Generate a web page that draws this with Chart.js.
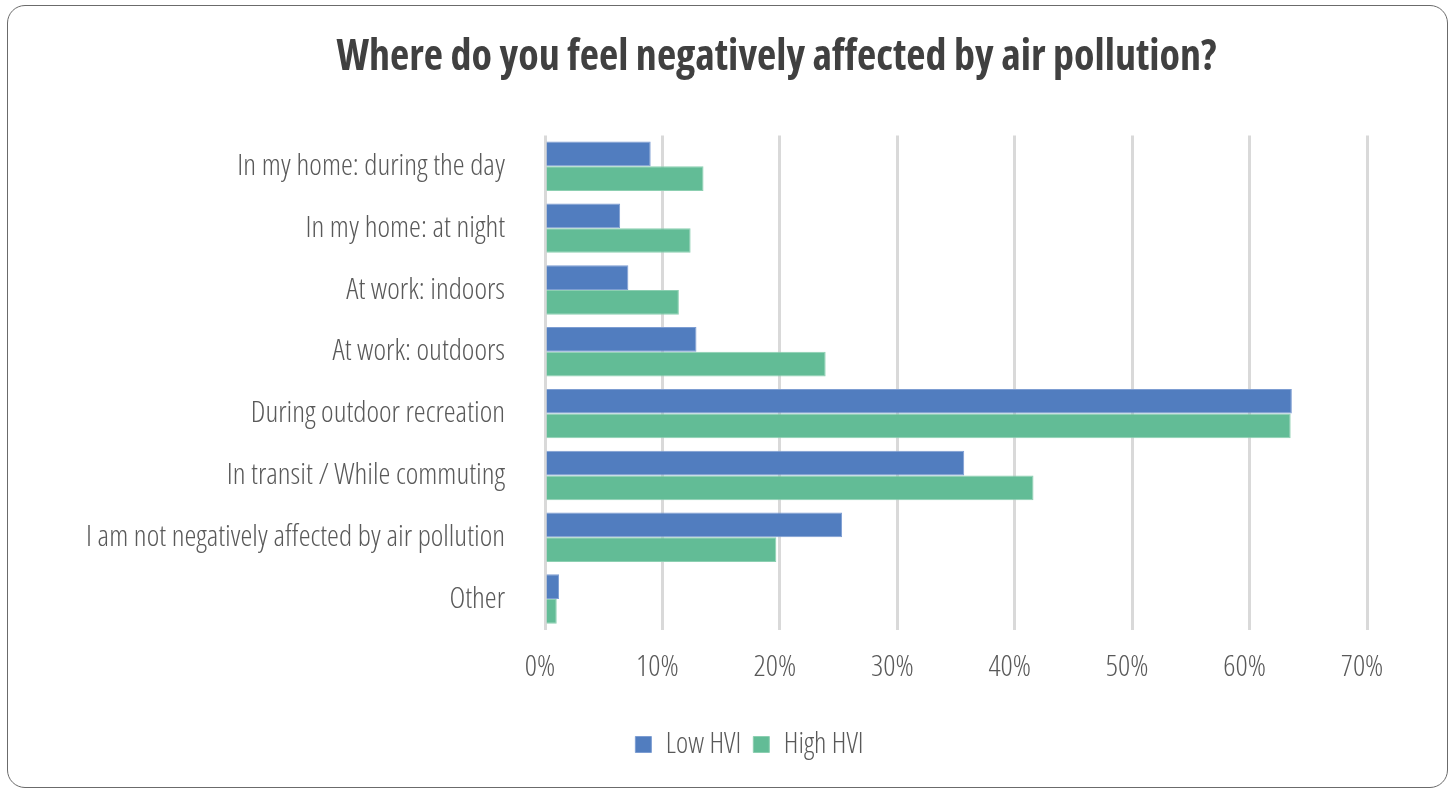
<!DOCTYPE html>
<html>
<head>
<meta charset="utf-8">
<title>Air pollution survey</title>
<script src="https://cdn.jsdelivr.net/npm/chart.js@4.4.1/dist/chart.umd.min.js"></script>
<style>
  html, body { margin: 0; padding: 0; background: #fff; overflow: hidden; }
  #frame {
    position: absolute; left: 7px; top: 5px; width: 1441px; height: 783px;
    border: 1.5px solid #6b6b6b; border-radius: 18px; box-sizing: border-box;
  }
  #wrap { position: absolute; left: 0; top: 0; width: 1453px; height: 788px; }
</style>
</head>
<body>
<div id="frame"></div>
<div id="wrap"><canvas id="chart"></canvas></div>
<script>
const categories = [
    'In my home: during the day',
    'In my home: at night',
    'At work: indoors',
    'At work: outdoors',
    'During outdoor recreation',
    'In transit / While commuting',
    'I am not negatively affected by air pollution',
    'Other',
];
const seriesNames = ['Low HVI', 'High HVI'];
const lowHvi = [9.0, 6.4, 7.1, 12.9, 63.6, 35.7, 25.3, 1.2];
const highHvi = [13.5, 12.4, 11.4, 23.9, 63.5, 41.6, 19.7, 1.0];
const xMax = 70;
const xStep = 10;

const TEXT = '#595959';

// Open Sans is variable, the "condensed" keyword pulls the narrow width
Chart.defaults.font.family = "'Open Sans', sans-serif";
Chart.defaults.color = TEXT;

// title and legend are not centred on the same spot, move their boxes
const shiftBlocks = {
    id: 'shiftBlocks',
    afterLayout(chart) {
        chart.titleBlock.left += 63;
        chart.titleBlock.right += 63;
        chart.legend.left += 36;
        chart.legend.right += 36;
    }
};

new Chart(document.getElementById('chart'), {
    type: 'bar',
    data: {
        labels: categories,
        datasets: [{
            label: seriesNames[0],
            data: lowHvi,
            backgroundColor: '#517dbf',
            borderColor: '#7d9dd2',
            borderWidth: 1,
            barPercentage: 1,
            categoryPercentage: 0.8,
        }, {
            label: seriesNames[1],
            data: highHvi,
            backgroundColor: '#62bc96',
            borderColor: '#8ccfb1',
            borderWidth: 1,
            barPercentage: 1,
            categoryPercentage: 0.8,
        }]
    },
    options: {
        indexAxis: 'y',
        responsive: true,
        maintainAspectRatio: false,
        animation: false,
        layout: {
            padding: { top: 0, left: 60, right: 86, bottom: 19 }
        },
        scales: {
            x: {
                min: 0,
                max: xMax,
                ticks: {
                    stepSize: xStep,
                    callback: v => v + '%',
                    font: { size: 30, weight: '300 condensed' },
                    color: TEXT,
                    padding: 19,
                    labelOffset: -5,
                },
                grid: {
                    color: '#d9d9d9',
                    lineWidth: 3,
                    drawTicks: false,
                },
                border: { display: false },
                afterFit(scale) {
                    scale.height = 88;
                }
            },
            y: {
                ticks: {
                    font: { size: 30, weight: '300 condensed' },
                    color: TEXT,
                    padding: 40,
                },
                grid: { display: false, drawTicks: false },
                border: { display: false },
                afterFit(scale) {
                    scale.width = 485;
                }
            }
        },
        plugins: {
            title: {
                display: true,
                text: 'Where do you feel negatively affected by air pollution?',
                color: '#404040',
                font: { size: 42, weight: 'bold condensed' },
                padding: { top: 33, bottom: 52 },
            },
            legend: {
                position: 'bottom',
                labels: {
                    boxWidth: 16,
                    boxHeight: 16,
                    padding: 12,
                    color: TEXT,
                    font: { size: 29, weight: '300 condensed' },
                }
            },
            tooltip: { enabled: false }
        }
    },
    plugins: [shiftBlocks]
});
</script>
</body>
</html>
